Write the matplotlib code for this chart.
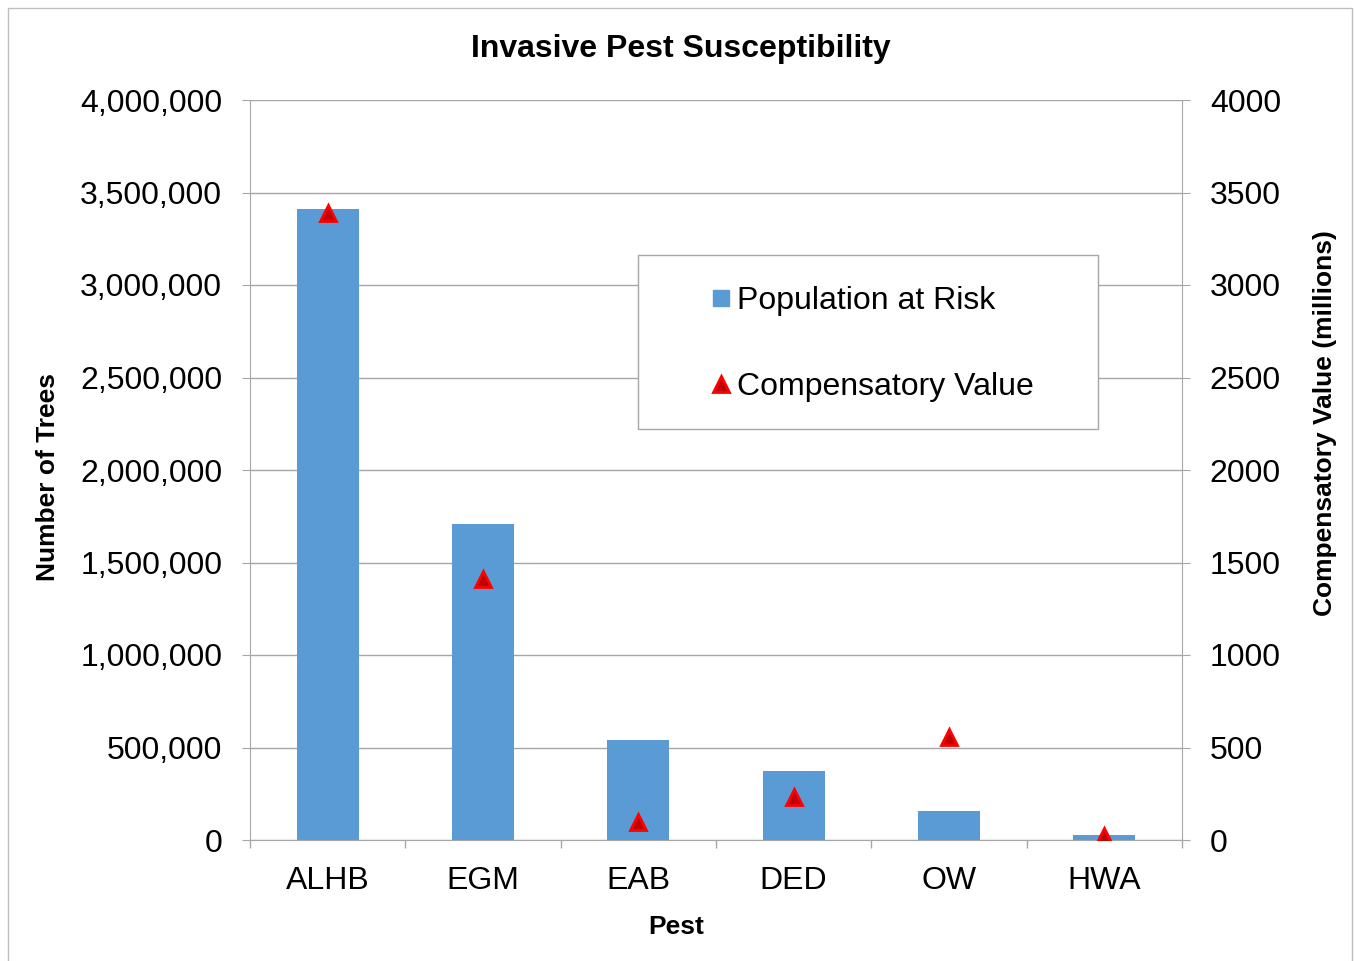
import numpy as np
import matplotlib.pyplot as plt
from matplotlib.lines import Line2D
from matplotlib.ticker import FuncFormatter

plt.rcParams['font.family'] = ['Liberation Sans', 'DejaVu Sans']

# data
pests = ["ALHB", "EGM", "EAB", "DED", "OW", "HWA"]
population = [3410000, 1708000, 539000, 373000, 157000, 25000]
comp_value = [3389, 1411, 97, 232, 557, 22]

bar_color = "#5b9bd5"
grid_color = "#a6a6a6"
W, H = 1355, 961

fig = plt.figure(figsize=(W / 100, H / 100), dpi=100)
# outer chart border
fig.patches.append(plt.Rectangle((8 / W, 1 - 962 / H), 1344 / W, 954 / H,
                                 transform=fig.transFigure, fill=False,
                                 edgecolor="#bfbfbf", linewidth=1))

ax = fig.add_axes([250 / W, 1 - 840 / H, 932 / W, 740 / H])
x = np.arange(len(pests))
ax.bar(x, population, width=0.4, color=bar_color, zorder=2)
ax.set_xlim(-0.5, len(pests) - 0.5)
ax.set_ylim(0, 4000000)
ax.set_yticks(np.arange(0, 4000001, 500000))
ax.yaxis.set_major_formatter(FuncFormatter(lambda v, p: f"{int(v):,}"))
ax.grid(axis="y", color=grid_color, linewidth=1, zorder=0)
ax.set_axisbelow(True)

ax.set_xticks(x)
ax.set_xticklabels(pests)
ax.set_xticks(np.arange(-0.5, len(pests)), minor=True)
ax.tick_params(axis="x", which="major", length=0, labelsize=23, pad=19)
ax.tick_params(axis="x", which="minor", length=6, color=grid_color, width=1)
ax.tick_params(axis="y", length=6, color=grid_color, labelsize=23, pad=14)

for side in ["left", "right", "bottom"]:
    ax.spines[side].set_color(grid_color)
ax.spines["top"].set_visible(False)

ax.set_xlabel("Pest", fontsize=19, fontweight="bold")
ax.xaxis.set_label_coords(0.457, -0.1176)
ax.xaxis.label.set_va("center")
ax.set_ylabel("Number of Trees", fontsize=19, fontweight="bold")
ax.yaxis.set_label_coords(-0.2165, 0.4905)
ax.yaxis.label.set_va("center")

ax2 = ax.twinx()
ax2.plot(x, comp_value, linestyle="none", marker="^", markersize=11,
         markerfacecolor="#c00000", markeredgecolor="#ff0000",
         markeredgewidth=2, zorder=3)
ax2.set_ylim(0, 4000)
ax2.set_yticks(np.arange(0, 4001, 500))
ax2.tick_params(axis="y", length=6, color=grid_color, labelsize=23, pad=14)
for side in ["left", "right", "bottom", "top"]:
    ax2.spines[side].set_visible(False)
ax2.set_ylabel("Compensatory Value (millions)", fontsize=19, fontweight="bold")
ax2.yaxis.set_label_coords(1.1534, 0.5635)
ax2.yaxis.label.set_va("center")

fig.text(681 / W, 1 - 49 / H, "Invasive Pest Susceptibility", fontsize=23,
         fontweight="bold", ha="center", va="center")

# legend box drawn separately so its size matches the reference
fig.patches.append(plt.Rectangle((638 / W, 1 - 429 / H), 460 / W, 174 / H,
                                 transform=fig.transFigure, facecolor="white",
                                 edgecolor=grid_color, linewidth=1, zorder=4))
handles = [
    Line2D([], [], linestyle="none", marker="s", markersize=11,
           color=bar_color, label="Population at Risk"),
    Line2D([], [], linestyle="none", marker="^", markersize=11,
           markerfacecolor="#c00000", markeredgecolor="#ff0000",
           markeredgewidth=2, label="Compensatory Value"),
]
leg = fig.legend(handles=handles, loc="center left",
                 bbox_to_anchor=(711 / W, 1 - 344 / H),
                 fontsize=23, frameon=False,
                 handlelength=0.6, handletextpad=0.2,
                 borderpad=0, labelspacing=1.76, borderaxespad=0)
leg.set_zorder(5)

fig.savefig("out.png", dpi=100)
